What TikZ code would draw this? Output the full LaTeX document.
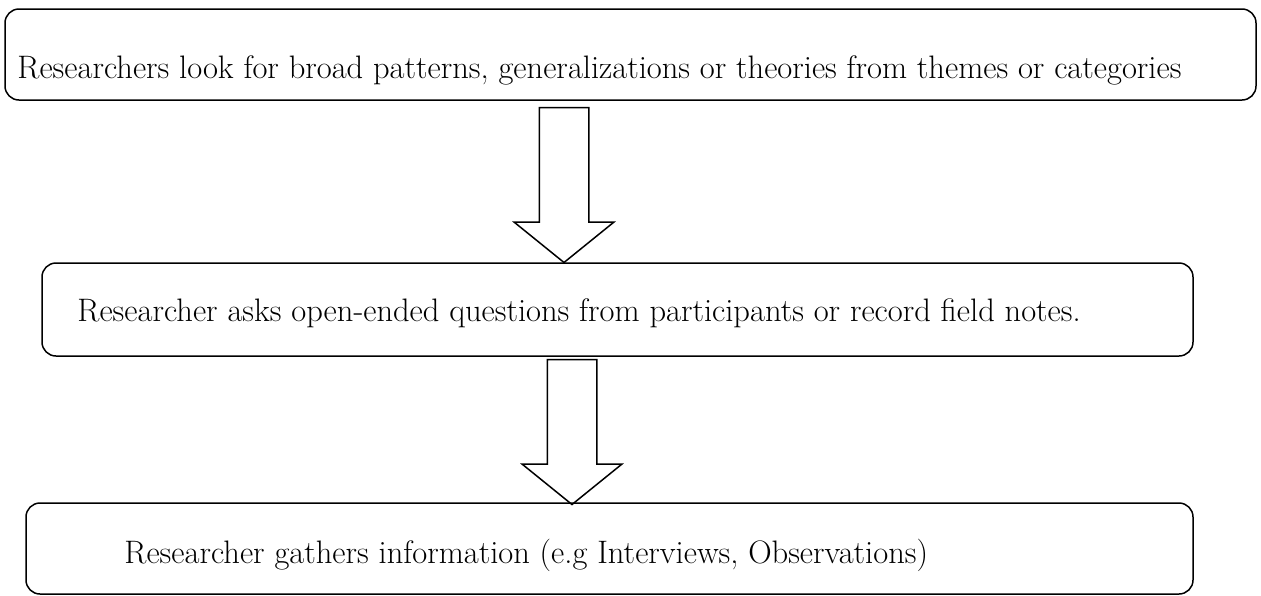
\documentclass[tikz,border=0pt]{standalone}
\usepackage{tikz}
\usetikzlibrary{shapes}
\usetikzlibrary{calc}
\usetikzlibrary{positioning}

\begin{document}
\begin{tikzpicture}[x=1pt,y=1pt,
stepbox/.style = {rectangle, rounded corners=14pt, draw=black, line width=1.5pt, minimum height=91pt, inner sep=0pt},
steptext/.style = {anchor=base west, inner sep=0pt, font=\fontsize{32.5}{38}\selectfont},
downarrow/.style = {draw, line width=1.5pt, single arrow, shape border rotate=270, inner sep=24pt, single arrow head extend=25pt, single arrow tip angle=102}
]
\useasboundingbox (0,0) rectangle (1261,-595);

\node (A) [stepbox, minimum width=1251pt] at (630.5,-54.5) {};
\node (B) [stepbox, minimum width=1151pt, minimum height=93pt] at (617.5,-309.5) {};
\node (C) [stepbox, minimum width=1167pt] at (609.5,-548.5) {};

\node (At) [steptext] at ($(A.west)+(13,-23.5)$) {Researchers look for broad patterns, generalizations or theories from themes or categories};
\node (Bt) [steptext] at ($(B.west)+(36,-12)$) {Researcher asks open-ended questions from participants or record field notes.};
\node (Ct) [steptext] at ($(C.west)+(99,-15)$) {Researcher gathers information (e.g Interviews, Observations)};

%\draw[->] (A) -- (B);
\draw[draw=none] ($(A.south)+(-66.5,-6)$) to node[downarrow, at start, anchor=tail, minimum height=155pt] {} ($(B.north)+(-53.5,2)$);
\draw[draw=none] ($(B.south)+(-45.5,-2)$) to node[downarrow, at start, anchor=tail, minimum height=145pt] {} ($(C.north)+(-37.5,0)$);
\end{tikzpicture}
\end{document}
